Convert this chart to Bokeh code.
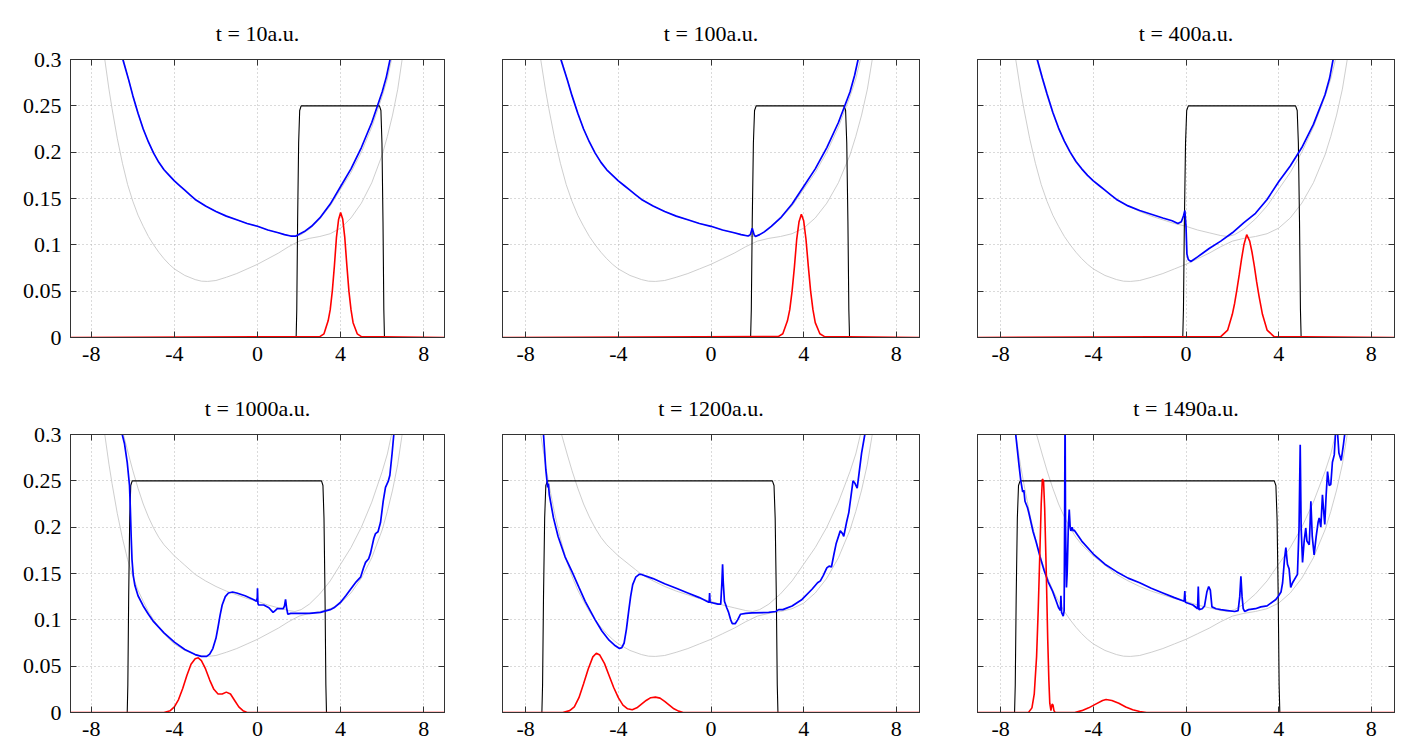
from bokeh.plotting import figure
from bokeh.layouts import column, row
from bokeh.models import Range1d, LinearAxis, FixedTicker, Grid
from bokeh.embed import file_html
from bokeh.resources import INLINE

# ---------------- data ----------------
titles = ["t = 10a.u.", "t = 100a.u.", "t = 400a.u.", "t = 1000a.u.", "t = 1200a.u.", "t = 1490a.u."]
x_ticks = [-8, -4, 0, 4, 8]
x_tick_labels = ["-8", "-4", "0", "4", "8"]
y_ticks = [0, 0.05, 0.1, 0.15, 0.2, 0.25, 0.3]
y_tick_labels = ["0", "0.05", "0.1", "0.15", "0.2", "0.25", "0.3"]

# grey curves (Born-Oppenheimer surfaces), same in every panel
bo1_x = [-7.45, -7.35, -7.15, -7.0, -6.75, -6.5, -6.25, -6.0, -5.75, -5.5, -5.25, -5.0, -4.75, -4.5, -4.25, -4.0,
         -3.5, -3.0, -2.7, -2.4, -2.0, -1.5, -1.0, -0.5, 0.0, 0.5, 1.0, 1.5, 2.0, 2.5, 3.0, 3.5, 4.0, 4.5, 5.0,
         5.5, 6.0, 6.25, 6.5, 6.75, 6.96, 7.05]
bo1_y = [0.32, 0.30, 0.268, 0.247, 0.215, 0.188, 0.165, 0.147, 0.132, 0.12, 0.109, 0.1, 0.092, 0.085, 0.079, 0.074,
         0.067, 0.0625, 0.0608, 0.0605, 0.0615, 0.065, 0.069, 0.074, 0.079, 0.085, 0.091, 0.098, 0.104, 0.107,
         0.109, 0.112, 0.118, 0.129, 0.145, 0.167, 0.197, 0.217, 0.24, 0.268, 0.30, 0.315]
bo2_x = [-6.55, -6.45, -6.2, -6.0, -5.75, -5.5, -5.25, -5.0, -4.75, -4.5, -4.25, -4.0, -3.75, -3.5, -3.25, -3.0,
         -2.5, -2.0, -1.5, -1.0, -0.5, 0.0, 0.5, 1.0, 1.5, 1.8, 2.1, 2.5, 3.0, 3.5, 4.0, 4.5, 5.0, 5.5, 6.0, 6.25,
         6.45, 6.55]
bo2_y = [0.32, 0.30, 0.278, 0.261, 0.242, 0.225, 0.211, 0.199, 0.189, 0.181, 0.175, 0.169, 0.164, 0.159, 0.154,
         0.149, 0.142, 0.136, 0.131, 0.127, 0.123, 0.12, 0.116, 0.113, 0.110, 0.109, 0.111, 0.117, 0.128, 0.142,
         0.16, 0.178, 0.2, 0.227, 0.26, 0.279, 0.30, 0.31]

# blue curves (exact potential) per time
blue_x_10 = [-6.6, -6.48, -6.2, -6.0, -5.75, -5.5, -5.25, -5.0, -4.75, -4.5, -4.25, -4.0, -3.75, -3.5, -3.25, -3.0,
             -2.5, -2.0, -1.5, -1.0, -0.5, 0.0, 0.5, 1.0, 1.3, 1.6, 1.85, 2.05, 2.3, 2.6, 3.0, 3.5, 4.0, 4.5, 5.0,
             5.5, 6.0, 6.2, 6.38, 6.45]
blue_y_10 = [0.315, 0.3, 0.278, 0.261, 0.242, 0.225, 0.211, 0.199, 0.189, 0.181, 0.175, 0.169, 0.164, 0.159, 0.154,
             0.149, 0.142, 0.136, 0.131, 0.127, 0.123, 0.12, 0.116, 0.113, 0.111, 0.1095, 0.1095, 0.112, 0.115, 0.12,
             0.129, 0.144, 0.163, 0.182, 0.205, 0.232, 0.265, 0.281, 0.3, 0.31]
blue_x_100 = [-6.6, -6.48, -6.2, -6.0, -5.75, -5.5, -5.25, -5.0, -4.75, -4.5, -4.25, -4.0, -3.75, -3.5, -3.25, -3.0,
              -2.5, -2.0, -1.5, -1.0, -0.5, 0.0, 0.5, 1.0, 1.3, 1.6, 1.7, 1.78, 1.86, 1.92, 2.1, 2.3, 2.6, 3.0, 3.5,
              4.0, 4.5, 5.0, 5.5, 6.0, 6.2, 6.35, 6.45]
blue_y_100 = [0.315, 0.3, 0.278, 0.261, 0.242, 0.225, 0.211, 0.199, 0.189, 0.181, 0.175, 0.169, 0.164, 0.159, 0.154,
              0.149, 0.142, 0.136, 0.131, 0.127, 0.123, 0.12, 0.116, 0.113, 0.111, 0.1095, 0.111, 0.118, 0.111,
              0.109, 0.111, 0.114, 0.12, 0.129, 0.144, 0.163, 0.182, 0.205, 0.232, 0.265, 0.283, 0.3, 0.315]
blue_x_400 = [-6.55, -6.42, -6.2, -6.0, -5.75, -5.5, -5.25, -5.0, -4.75, -4.5, -4.25, -4.0, -3.75, -3.5, -3.25,
              -3.0, -2.5, -2.0, -1.5, -1.0, -0.6, -0.35, -0.2, -0.1, -0.05, 0.0, 0.04, 0.1, 0.21, 0.5, 1.0, 1.5,
              2.0, 2.5, 3.0, 3.5, 4.0, 4.5, 5.0, 5.5, 6.0, 6.2, 6.35, 6.45]
blue_y_400 = [0.315, 0.3, 0.28, 0.263, 0.243, 0.226, 0.212, 0.2, 0.19, 0.182, 0.175, 0.169, 0.164, 0.159, 0.154,
              0.149, 0.142, 0.137, 0.133, 0.129, 0.126, 0.123, 0.125, 0.132, 0.137, 0.12, 0.09, 0.084, 0.082, 0.087,
              0.096, 0.104, 0.113, 0.124, 0.134, 0.149, 0.168, 0.185, 0.205, 0.23, 0.262, 0.28, 0.3, 0.31]
blue_x_1000 = [-6.56, -6.51, -6.40, -6.27, -6.16, -6.12, -6.08, -6.04, -5.98, -5.9, -5.75, -5.5, -5.25, -5.0, -4.5, -4.0,
               -3.5, -3.0, -2.7, -2.45, -2.3, -2.15, -2.0, -1.9, -1.8, -1.7, -1.55, -1.4, -1.2, -1.0, -0.6, -0.2, -0.05,
               -0.01, 0.0, 0.02, 0.05, 0.3, 0.55, 0.75, 0.85, 0.95, 1.24, 1.3, 1.35, 1.4, 1.46, 1.6, 2.07, 2.5, 3.03,
               3.5, 3.68, 4.0, 4.25, 4.48, 4.75, 4.96, 5.1, 5.2, 5.35, 5.44, 5.6, 5.68, 5.8, 5.92, 6.05, 6.16, 6.3,
               6.37, 6.48, 6.56, 6.62]
blue_y_1000 = [0.315, 0.30, 0.29, 0.27, 0.245, 0.22, 0.19, 0.165, 0.148, 0.137, 0.126, 0.115, 0.106, 0.098, 0.086,
               0.076, 0.068, 0.0625, 0.0605, 0.0605, 0.063, 0.069, 0.08, 0.092, 0.105, 0.116, 0.125, 0.129, 0.13,
               0.129, 0.126, 0.122, 0.12, 0.124, 0.134, 0.118, 0.116, 0.116, 0.113, 0.108, 0.11, 0.112, 0.112, 0.115,
               0.122, 0.113, 0.106, 0.107, 0.107, 0.107, 0.108, 0.111, 0.113, 0.119, 0.126, 0.133, 0.141, 0.146,
               0.156, 0.162, 0.166, 0.172, 0.188, 0.193, 0.195, 0.205, 0.228, 0.243, 0.25, 0.256, 0.28, 0.3, 0.315]
blue_x_1200 = [-7.26, -7.23, -7.13, -7.05, -7.02, -6.98, -6.8, -6.6, -6.3, -6.0, -5.7, -5.43, -5.0, -4.71, -4.4, -4.13,
               -3.95, -3.85, -3.75, -3.65, -3.56, -3.47, -3.38, -3.25, -3.1, -3.0, -2.5, -2.0, -1.5, -1.0, -0.5, -0.1,
               -0.08, -0.06, -0.04, 0.3, 0.42, 0.47, 0.5, 0.53, 0.58, 0.68, 0.76, 0.85, 0.92, 1.05, 1.15, 1.27, 1.5,
               1.77, 2.49, 2.8, 2.92, 3.1, 3.5, 3.93, 4.36, 4.6, 4.72, 4.85, 5.0, 5.1, 5.2, 5.3, 5.4, 5.58, 5.68, 5.73,
               5.85, 5.95, 6.13, 6.22, 6.31, 6.4, 6.5, 6.64, 6.7]
blue_y_1200 = [0.315, 0.30, 0.262, 0.243, 0.247, 0.235, 0.21, 0.19, 0.168, 0.152, 0.135, 0.12, 0.1, 0.088, 0.078,
               0.072, 0.069, 0.070, 0.075, 0.09, 0.108, 0.125, 0.138, 0.146, 0.149, 0.149, 0.1445, 0.139, 0.134,
               0.129, 0.124, 0.119, 0.119, 0.129, 0.119, 0.117, 0.117, 0.14, 0.16, 0.14, 0.12, 0.113, 0.108, 0.1,
               0.096, 0.096, 0.1, 0.106, 0.107, 0.1075, 0.108, 0.109, 0.111, 0.111, 0.115, 0.122, 0.133, 0.14, 0.142,
               0.148, 0.156, 0.158, 0.157, 0.17, 0.182, 0.196, 0.193, 0.19, 0.205, 0.216, 0.25, 0.247, 0.242, 0.26,
               0.28, 0.30, 0.315]
blue_x_1490 = [-7.42, -7.35, -7.2, -7.13, -7.05, -7.0, -6.95, -6.84, -6.78, -6.6, -6.48, -6.3, -6.12, -5.95, -5.76,
               -5.6, -5.5, -5.42, -5.4, -5.37, -5.3, -5.26, -5.24, -5.22, -5.2, -5.16, -5.13, -5.08, -5.04, -5.0,
               -4.97, -4.92, -4.87, -4.83, -4.5, -4.0, -3.5, -3.0, -2.5, -2.0, -1.5, -1.0, -0.5, -0.08, -0.05, -0.03,
               0.3, 0.45, 0.5, 0.53, 0.56, 0.7, 0.8, 0.9, 0.98, 1.05, 1.12, 1.3, 1.5, 1.8, 2.1, 2.25, 2.32, 2.37, 2.42,
               2.47, 2.53, 2.7, 3.0, 3.23, 3.5, 3.88, 4.0, 4.1, 4.17, 4.25, 4.31, 4.38, 4.45, 4.52, 4.6, 4.81, 4.88,
               4.93, 4.97, 5.03, 5.1, 5.17, 5.22, 5.32, 5.35, 5.39, 5.45, 5.53, 5.62, 5.7, 5.75, 5.82, 5.89, 5.95,
               5.99, 6.05, 6.11, 6.18, 6.25, 6.32, 6.4, 6.45, 6.52, 6.6, 6.7, 6.8, 6.9]
blue_y_1490 = [0.315, 0.30, 0.265, 0.25, 0.238, 0.24, 0.228, 0.221, 0.215, 0.195, 0.185, 0.168, 0.153, 0.141, 0.131,
               0.12, 0.113, 0.11, 0.126, 0.108, 0.104, 0.11, 0.2, 0.33, 0.2, 0.135, 0.15, 0.2, 0.219, 0.2, 0.196, 0.2,
               0.196, 0.197, 0.185, 0.171, 0.16, 0.152, 0.145, 0.14, 0.134, 0.129, 0.124, 0.12, 0.131, 0.119, 0.116,
               0.113, 0.112, 0.136, 0.111, 0.112, 0.115, 0.13, 0.136, 0.132, 0.114, 0.112, 0.111, 0.11, 0.109, 0.11,
               0.125, 0.147, 0.125, 0.112, 0.109, 0.111, 0.112, 0.114, 0.115, 0.122, 0.126, 0.13, 0.14, 0.165, 0.178,
               0.16, 0.155, 0.135, 0.14, 0.149, 0.2, 0.289, 0.2, 0.162, 0.185, 0.199, 0.185, 0.181, 0.2, 0.228, 0.19,
               0.17, 0.19, 0.205, 0.21, 0.2, 0.235, 0.215, 0.203, 0.235, 0.26, 0.245, 0.246, 0.27, 0.278, 0.3, 0.31,
               0.28, 0.272, 0.29, 0.31]

# red curves (nuclear density) per time
red_x_10 = [-9, 3.0, 3.2, 3.4, 3.5, 3.6, 3.7, 3.8, 3.9, 4.0, 4.1, 4.2, 4.3, 4.4, 4.5, 4.6, 4.8, 5.0, 9]
red_y_10 = [0, 0.001, 0.004, 0.018, 0.03, 0.05, 0.077, 0.108, 0.127, 0.135, 0.128, 0.108, 0.078, 0.05, 0.03, 0.016,
            0.004, 0.001, 0]
red_x_100 = [-9, 2.9, 3.1, 3.3, 3.4, 3.5, 3.6, 3.7, 3.8, 3.9, 4.0, 4.1, 4.2, 4.3, 4.4, 4.5, 4.7, 4.9, 9]
red_y_100 = [0, 0.001, 0.004, 0.018, 0.03, 0.05, 0.076, 0.106, 0.125, 0.133, 0.126, 0.106, 0.077, 0.05, 0.03, 0.016,
             0.004, 0.001, 0]
red_x_400 = [-9, 1.5, 1.8, 2.0, 2.1, 2.2, 2.3, 2.4, 2.5, 2.62, 2.75, 2.85, 2.95, 3.05, 3.15, 3.3, 3.5, 3.8, 9]
red_y_400 = [0, 0.001, 0.008, 0.025, 0.037, 0.052, 0.068, 0.085, 0.1, 0.111, 0.104, 0.092, 0.077, 0.06, 0.045, 0.025,
             0.008, 0.001, 0]
red_x_1000 = [-9, -4.5, -4.2, -4.0, -3.8, -3.6, -3.4, -3.2, -3.0, -2.85, -2.7, -2.5, -2.3, -2.1, -1.9, -1.7, -1.5,
              -1.3, -1.1, -0.9, -0.7, -0.5, 9]
red_y_1000 = [0, 0, 0.002, 0.006, 0.014, 0.026, 0.04, 0.052, 0.058, 0.059, 0.056, 0.047, 0.035, 0.025, 0.02, 0.02,
              0.022, 0.02, 0.013, 0.006, 0.002, 0, 0]
red_x_1200 = [-9, -6.4, -6.1, -5.9, -5.7, -5.5, -5.3, -5.1, -4.95, -4.8, -4.6, -4.4, -4.2, -4.0, -3.8, -3.6, -3.4,
              -3.2, -3.0, -2.8, -2.6, -2.4, -2.2, -2.0, -1.8, -1.6, -1.4, -1.2, 9]
red_y_1200 = [0, 0, 0.002, 0.006, 0.016, 0.031, 0.047, 0.06, 0.064, 0.062, 0.053, 0.04, 0.027, 0.016, 0.008, 0.004,
              0.003, 0.005, 0.009, 0.013, 0.016, 0.0166, 0.0155, 0.012, 0.008, 0.004, 0.0015, 0, 0]
red_x_1490 = [-9, -6.8, -6.65, -6.55, -6.45, -6.38, -6.3, -6.25, -6.2, -6.15, -6.1, -6.03, -5.97, -5.92, -5.88,
              -5.83, -5.78, -5.74, -5.7, -5.65, -4.8, -4.5, -4.2, -3.9, -3.6, -3.45, -3.2, -2.9, -2.6, -2.3, -2.0,
              -1.7, 9]
red_y_1490 = [0, 0, 0.005, 0.02, 0.06, 0.11, 0.18, 0.225, 0.252, 0.25, 0.22, 0.15, 0.08, 0.035, 0.01, 0.002, 0.009,
              0.008, 0.002, 0, 0, 0.002, 0.005, 0.009, 0.013, 0.014, 0.013, 0.01, 0.006, 0.003, 0.001, 0, 0]

# black window: foot positions of left and right edge, and plateau height
box_left = [1.86, 1.71, -0.14, -6.27, -7.3, -7.4]
box_right = [6.11, 5.98, 4.97, 3.32, 2.89, 4.05]
box_height = 0.25
edge_dx = [0, 0.03, 0.07, 0.12, 0.17, 0.24]
edge_frac = [0, 0.12, 0.5, 0.84, 0.98, 1.0]

blue_x = [blue_x_10, blue_x_100, blue_x_400, blue_x_1000, blue_x_1200, blue_x_1490]
blue_y = [blue_y_10, blue_y_100, blue_y_400, blue_y_1000, blue_y_1200, blue_y_1490]
red_x = [red_x_10, red_x_100, red_x_400, red_x_1000, red_x_1200, red_x_1490]
red_y = [red_y_10, red_y_100, red_y_400, red_y_1000, red_y_1200, red_y_1490]

FONT = "Liberation Serif"
AXC = "#333333"


def make_panel(i):
    first_col = (i % 3 == 0)
    last_col = (i % 3 == 2)
    p = figure(frame_width=374 if first_col else 417, frame_height=278,
               x_range=Range1d(-9, 9), y_range=Range1d(0, 0.3),
               x_axis_type=None, y_axis_type=None,
               min_border_left=70 if first_col else 48,
               min_border_right=31 if last_col else 10,
               min_border_top=59, min_border_bottom=38,
               output_backend="svg", toolbar_location=None)
    p.background_fill_color = "white"
    p.border_fill_color = "white"
    p.outline_line_color = AXC
    p.outline_line_width = 1

    xt = FixedTicker(ticks=x_ticks)
    yt = FixedTicker(ticks=y_ticks)
    xl = {t: s for t, s in zip(x_ticks, x_tick_labels)}
    yl = {t: s for t, s in zip(y_ticks, y_tick_labels)}

    def style(ax, show):
        ax.axis_line_color = AXC
        ax.major_tick_line_color = AXC
        ax.major_tick_in = 6
        ax.major_tick_out = 0
        ax.minor_tick_line_color = None
        ax.major_label_text_font = FONT
        ax.major_label_text_font_size = "22px" if show else "1px"
        ax.major_label_text_color = "black" if show else None
        ax.major_label_standoff = 9 if show else 0

    bx = LinearAxis(ticker=xt, major_label_overrides=xl)
    style(bx, True)
    p.add_layout(bx, "below")
    ly = LinearAxis(ticker=yt, major_label_overrides=yl)
    style(ly, first_col)
    p.add_layout(ly, "left")
    ax_top = LinearAxis(ticker=xt)
    style(ax_top, False)
    p.add_layout(ax_top, "above")
    ax_r = LinearAxis(ticker=yt)
    style(ax_r, False)
    p.add_layout(ax_r, "right")

    for dim, tk in ((0, xt), (1, yt)):
        g = Grid(dimension=dim, ticker=tk, grid_line_color="#b4b4b4", grid_line_dash="1 3", grid_line_width=1)
        p.add_layout(g)

    p.title.text = titles[i]
    p.title.align = "center"
    p.title.text_font = FONT
    p.title.text_font_size = "22px"
    p.title.text_font_style = "normal"
    p.title.text_color = "black"
    p.title.standoff = 28

    # grey BO surfaces
    p.line(bo1_x, bo1_y, line_color="#c8c8c8", line_width=0.9)
    p.line(bo2_x, bo2_y, line_color="#c8c8c8", line_width=0.9)
    # black window
    L, R = box_left[i], box_right[i]
    wx = [-9] + [L + d for d in edge_dx] + [R - d for d in reversed(edge_dx)] + [9]
    wy = [0] + [box_height * f for f in edge_frac] + [box_height * f for f in reversed(edge_frac)] + [0]
    p.line(wx, wy, line_color="black", line_width=1.1)
    # blue
    p.line(blue_x[i], blue_y[i], line_color="#0000ff", line_width=1.7)
    # red
    p.line(red_x[i], red_y[i], line_color="#ff0000", line_width=1.6)
    return p


panels = [make_panel(i) for i in range(6)]
layout = column(row(*panels[:3]), row(*panels[3:]))
open("out.html", "w").write(file_html(layout, INLINE))
